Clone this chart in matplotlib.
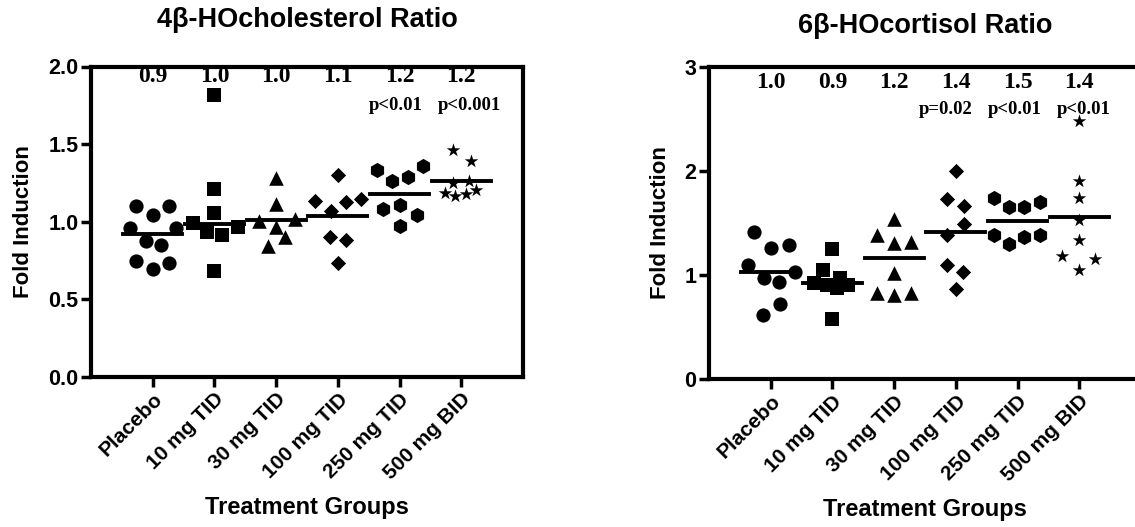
import numpy as np
import matplotlib
matplotlib.use("Agg")
import matplotlib.pyplot as plt

plt.rcParams['font.family'] = ['Liberation Sans', 'DejaVu Sans']

groups = ['Placebo', '10 mg TID', '30 mg TID', '100 mg TID', '250 mg TID', '500 mg BID']

# 4beta-HOcholesterol ratio, per subject
chol = [
    [1.099, 1.045, 1.099, 0.959, 0.959, 0.879, 0.852, 0.748, 0.695, 0.737],
    [1.815, 1.211, 1.056, 0.991, 0.933, 0.916, 0.966, 0.680],
    [1.282, 1.116, 1.008, 1.017, 0.966, 0.901, 0.841],
    [1.135, 1.299, 1.125, 1.148, 1.067, 0.901, 0.884, 0.733],
    [1.331, 1.265, 1.288, 1.357, 1.082, 1.110, 1.045, 0.974],
    [1.460, 1.389, 1.250, 1.260, 1.185, 1.163, 1.181, 1.202],
]
chol_center = [0.92, 0.985, 1.013, 1.04, 1.18, 1.26]
chol_labels = ['0.9', '1.0', '1.0', '1.1', '1.2', '1.2']
chol_p = ['', '', '', '', 'p<0.01', 'p<0.001']

# 6beta-HOcortisol ratio, per subject
cort = [
    [1.417, 1.257, 1.289, 1.097, 1.033, 0.969, 0.937, 0.723, 0.617],
    [1.248, 1.049, 0.969, 0.921, 0.905, 0.905, 0.873, 0.576],
    [1.535, 1.385, 1.305, 1.321, 1.017, 0.825, 0.809, 0.825],
    [2.000, 1.727, 1.666, 1.487, 1.385, 1.097, 1.033, 0.867],
    [1.737, 1.657, 1.657, 1.698, 1.385, 1.298, 1.369, 1.385],
    [2.479, 1.903, 1.743, 1.529, 1.337, 1.183, 1.154, 1.049],
]
cort_center = [1.033, 0.921, 1.161, 1.41, 1.522, 1.555]
cort_labels = ['1.0', '0.9', '1.2', '1.4', '1.5', '1.4']
cort_p = ['', '', '', 'p=0.02', 'p<0.01', 'p<0.01']

# horizontal scatter offsets (layout, not data)
chol_dx = [
    [-0.27, 0, 0.27, -0.37, 0.38, -0.11, 0.13, -0.27, 0, 0.27],
    [0, 0, 0, -0.35, -0.12, 0.13, 0.39, 0],
    [0, 0, -0.27, 0.30, 0, 0.15, -0.13],
    [-0.37, 0, 0.13, 0.37, -0.11, -0.13, 0.13, 0],
    [-0.36, -0.12, 0.13, 0.38, -0.27, 0, 0.29, 0],
    [-0.13, 0.15, -0.13, 0.13, -0.26, -0.10, 0.08, 0.24],
]
cort_dx = [
    [-0.27, 0, 0.29, -0.37, 0.39, -0.11, 0.13, 0.15, -0.13],
    [0, -0.15, 0.13, -0.30, -0.09, 0.26, 0.08, 0],
    [0, -0.28, 0, 0.28, 0, -0.28, 0, 0.28],
    [0, -0.15, 0.13, 0.13, -0.15, -0.15, 0.12, 0],
    [-0.38, -0.14, 0.11, 0.36, -0.38, -0.14, 0.11, 0.36],
    [0, 0, 0, 0, 0, -0.28, 0.26, 0],
]
chol_pdx = [0, 0, 0, 0, -0.06, 0.13]
cort_pdx = [0, 0, 0, -0.16, -0.05, 0.07]

markers = ['o', 's', '^', 'D', 'h', '*']
msizes = [105, 90, 110, 60, 120, 105]

fig = plt.figure(figsize=(11.35, 5.27), dpi=100)
ax1 = fig.add_axes([91 / 1135, 150 / 527, 432 / 1135, 310.5 / 527])
ax2 = fig.add_axes([709 / 1135, 147.7 / 527, 432 / 1135, 312.6 / 527])


def panel(ax, data, dx, center, labels, plabs, pdx, ymax, yticks, yfmt, title, title_y, ly, py):
    for i in range(len(groups)):
        xs = i + np.array(dx[i])
        ax.scatter(xs, data[i], marker=markers[i], s=msizes[i], color='black',
                   linewidths=0, zorder=3, clip_on=False)
        ax.plot([i - 0.48, i + 0.48], [center[i], center[i]], color='black', lw=2.8, zorder=4)
        ax.text(i, ly, labels[i], transform=ax.get_xaxis_transform(), ha='center', va='center',
                family='Liberation Serif', fontweight='bold', fontsize=17)
        if plabs[i]:
            ax.text(i + pdx[i], py, plabs[i], transform=ax.get_xaxis_transform(),
                    ha='center', va='center',
                    family='Liberation Serif', fontweight='bold', fontsize=13.5)
    ax.set_xlim(-1, 6)
    ax.set_ylim(0, ymax)
    ax.set_yticks(yticks)
    ax.set_yticklabels([yfmt.format(v) for v in yticks], fontweight='bold', fontsize=15.5)
    ax.set_xticks(range(len(groups)))
    ax.set_xticklabels(groups, rotation=45, ha='right', rotation_mode='anchor',
                       fontweight='bold', fontsize=15)
    for s in ax.spines.values():
        s.set_linewidth(3)
    ax.tick_params(axis='both', direction='out', length=7, width=2.5, pad=2)
    ax.set_ylabel('Fold Induction', fontweight='bold', fontsize=16, labelpad=10)
    ax.set_xlabel('Treatment Groups', fontweight='bold', fontsize=17, labelpad=9)
    box = ax.get_position()
    fig.text((box.x0 + box.x0 + 432 / 1135) / 2, title_y, title, ha='center', va='center',
             fontweight='bold', fontsize=19.5)


panel(ax1, chol, chol_dx, chol_center, chol_labels, chol_p, chol_pdx, 2.0,
      [0.0, 0.5, 1.0, 1.5, 2.0], '{:.1f}', '4β-HOcholesterol Ratio', 1 - 20 / 527, 0.969, 0.876)
panel(ax2, cort, cort_dx, cort_center, cort_labels, cort_p, cort_pdx, 3,
      [0, 1, 2, 3], '{:.0f}', '6β-HOcortisol Ratio', 1 - 26 / 527, 0.951, 0.862)

fig.savefig('out.png', dpi=100)
